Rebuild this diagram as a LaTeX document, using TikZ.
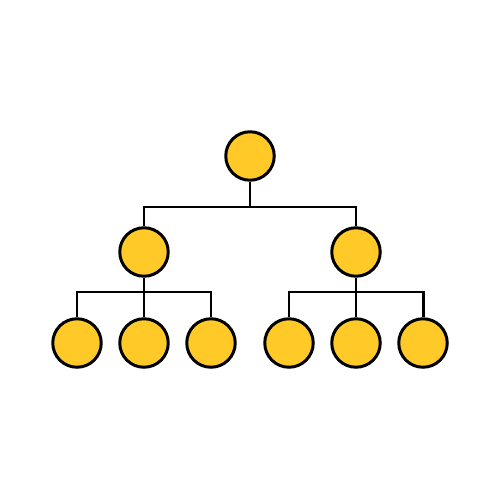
\documentclass[tikz,border=0pt]{standalone}
\definecolor{boxyellow}{RGB}{255,202,40}
\tikzset{
	unit/.style={circle, draw=black, fill=boxyellow, line width=1.7pt, minimum size=0.97cm, inner sep=0pt},
	link/.style={line width=1.7pt}
}
\begin{document}
\begin{tikzpicture}[x=0.02cm, y=-0.02cm]
	\useasboundingbox [fill=white] (0,0) rectangle (500,500);
	\path node (top) at (250,156) [unit] {}
		  node (ml) at (144,252) [unit] {}
		  node (mr) at (356,252) [unit] {}
		  node (l1) at (77,343) [unit] {}
		  node (l2) at (144,343) [unit] {}
		  node (l3) at (211,343) [unit] {}
		  node (r1) at (289,343) [unit] {}
		  node (r2) at (356,343) [unit] {}
		  node (r3) at (423,343) [unit] {};
	\coordinate (jt) at (250,207);
	\coordinate (jl) at (144,292);
	\coordinate (jr) at (356,292);
	\draw [link] (top) -- (jt);
	\draw [link] (jt) -| (ml);
	\draw [link] (jt) -| (mr);
	\draw [link] (ml) -- (jl);
	\draw [link] (jl) -| (l1);
	\draw [link] (jl) -- (l2);
	\draw [link] (jl) -| (l3);
	\draw [link] (mr) -- (jr);
	\draw [link] (jr) -| (r1);
	\draw [link] (jr) -- (r2);
	\draw [link] (jr) -| (r3);
\end{tikzpicture}
\end{document}
